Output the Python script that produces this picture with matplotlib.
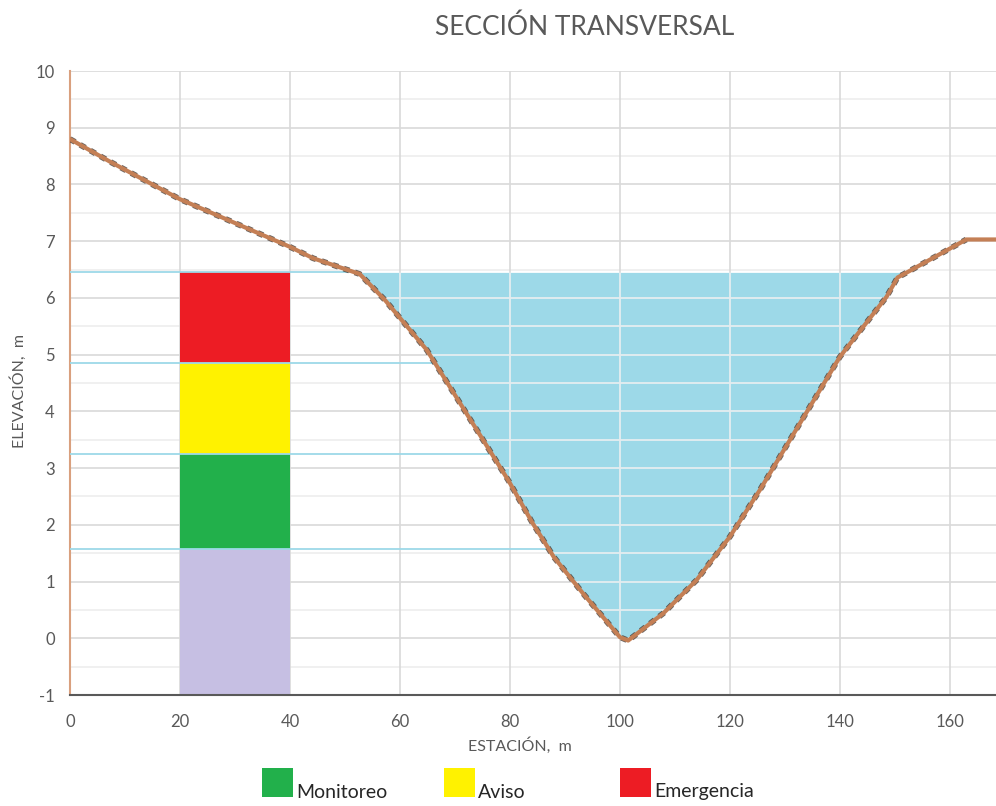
import numpy as np
import matplotlib
matplotlib.use("Agg")
import matplotlib.pyplot as plt
from matplotlib.patches import Rectangle

# ---- data ----
estacion = [0, 7.3, 20, 40, 44.2, 51.5, 52.7, 57.3, 64.9, 79.8, 84.0, 88.0, 93.3,
            100.0, 101.5, 107.9, 113.9, 120.0, 125.5, 140.0, 148.5, 150.5, 152.4,
            163.0, 170.0]
elevacion = [8.80, 8.40, 7.74, 6.90, 6.70, 6.46, 6.42, 5.96, 5.08, 2.77, 2.05, 1.43, 0.79,
             0.02, -0.04, 0.44, 1.02, 1.79, 2.62, 4.96, 6.02, 6.36, 6.46,
             7.03, 7.03]
niveles = [1.57, 3.25, 4.85, 6.45]          # alert thresholds (m)
barra_x = [20, 40]                           # station span of the alert column
colores_niveles = ["#c6bfe3", "#22b04b", "#fff200", "#ed1c24"]
leyenda_labels = ["Monitoreo", "Aviso", "Emergencia"]
leyenda_colores = ["#22b04b", "#fff200", "#ed1c24"]
yticks = list(range(-1, 11))
xticks = list(range(0, 161, 20))

plt.rcParams['font.family'] = ['Lato', 'DejaVu Sans']
plt.rcParams['axes.unicode_minus'] = False

W, H = 996, 806
fig = plt.figure(figsize=(W / 100, H / 100), dpi=100)
ax = fig.add_axes([70 / W, (H - 695) / H, (W - 70) / W, (695 - 71) / H])

ymin, ymax = -1, 10
xmin, xmax = 0, 168.4
ax.set_xlim(xmin, xmax)
ax.set_ylim(ymin, ymax)

x = np.array(estacion)
y = np.array(elevacion)

# grid
for yv in np.arange(ymin, ymax + 0.01, 0.5):
    major = abs(yv - round(yv)) < 1e-6
    ax.axhline(yv, color="#d9d9d9" if major else "#eeeeee", lw=1.2, zorder=0)
for xv in xticks:
    ax.axvline(xv, color="#d9d9d9", lw=1.2, zorder=0)

# alert column
bottoms = [ymin] + niveles[:-1]
for b, t, c in zip(bottoms, niveles, colores_niveles):
    ax.add_patch(Rectangle((barra_x[0], b), barra_x[1] - barra_x[0], t - b,
                           facecolor=c, edgecolor="none", zorder=2))

# water fill
nivel_agua = niveles[-1]
fill = ax.fill_between(x, y, nivel_agua, where=y <= nivel_agua, interpolate=True,
                       color="#9dd9e8", lw=0, zorder=1)
clip_path = fill.get_paths()[0]
for yv in np.arange(ymin, ymax + 0.01, 0.5):
    ln = ax.axhline(yv, color="#e4edf0", lw=1.3, zorder=1.5)
    ln.set_clip_path(clip_path, ax.transData)
for xv in xticks:
    ln = ax.axvline(xv, color="#e4edf0", lw=1.3, zorder=1.5)
    ln.set_clip_path(clip_path, ax.transData)

# threshold lines from axis to the left bank
imin = int(np.argmin(y))
xl, yl = x[:imin + 1][::-1], y[:imin + 1][::-1]
for nv in niveles:
    xe = np.interp(nv, yl, xl)
    ax.plot([0, xe], [nv, nv], color="#9dd9e8", lw=1.3, zorder=3)

# terrain profile (dark dotted edge except for the flat top-right segment)
ax.plot(x[:-1], y[:-1], color="#3a302a", lw=4.2, ls=(0, (1, 1)), alpha=0.75, zorder=4)
ax.plot(x, y, color="#c47f55", lw=3.0, zorder=5, solid_joinstyle="round")

# axes styling
ax.set_xticks(xticks)
ax.set_yticks(yticks)
ax.tick_params(length=0, labelsize=12, colors="#595959")
ax.tick_params(axis="x", pad=14)
ax.tick_params(axis="y", pad=11)
for s in ["top", "right"]:
    ax.spines[s].set_visible(False)
ax.spines["left"].set_color("#d9a07e")
ax.spines["left"].set_linewidth(1.5)
ax.spines["bottom"].set_color("#595959")
ax.spines["bottom"].set_linewidth(1.5)
ax.set_xlabel("ESTACIÓN,  m", fontsize=11.5, color="#595959")
ax.set_ylabel("ELEVACIÓN,  m", fontsize=11.5, color="#595959")
ax.xaxis.set_label_coords((520 - 70) / (W - 70), -(737 - 695) / (695 - 71))
ax.yaxis.set_label_coords(-(70 - 27) / (W - 70), (695 - 391) / (695 - 71))

fig.text(585 / W, 1 - 27 / H, "SECCIÓN TRANSVERSAL", ha="center", va="center",
         fontsize=19, color="#595959")

# legend
leg_x = [262, 444, 620]
for lx, lab, col in zip(leg_x, leyenda_labels, leyenda_colores):
    fig.add_artist(Rectangle((lx / W, 1 - 797 / H), 31 / W, 29 / H,
                             transform=fig.transFigure, facecolor=col,
                             edgecolor="none"))
    fig.text((lx + 34) / W, 1 - 792 / H, lab, ha="left", va="center",
             fontsize=14, color="#262626")

fig.savefig("out.png", dpi=100)
